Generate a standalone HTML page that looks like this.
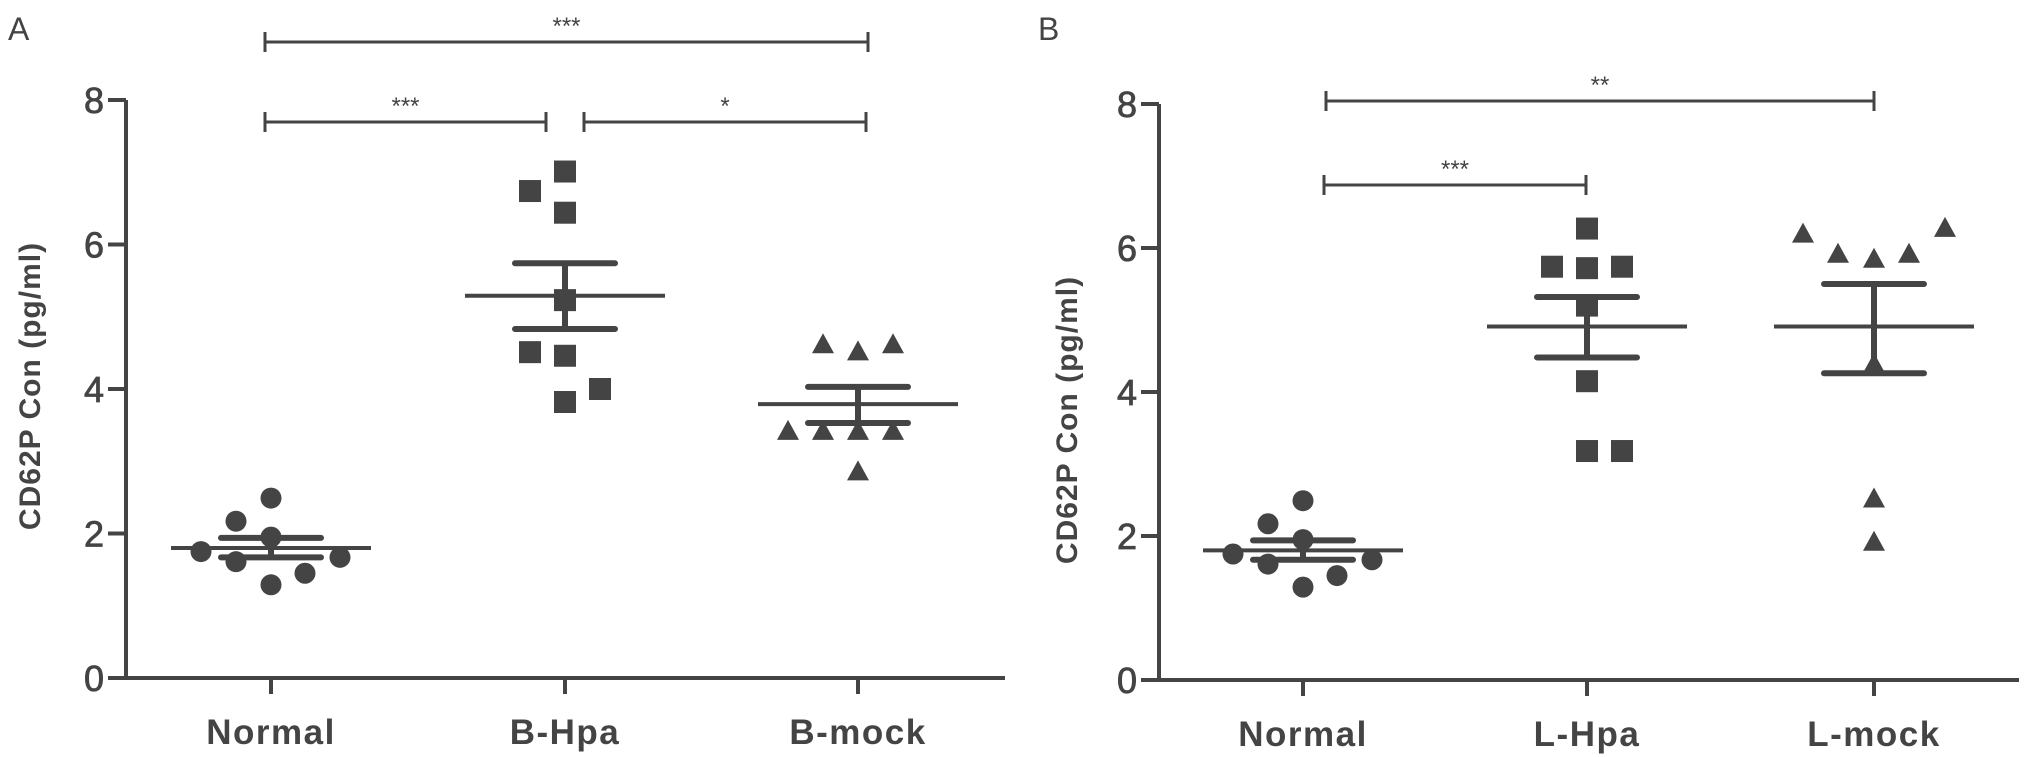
<!DOCTYPE html>
<html><head><meta charset="utf-8">
<style>
html,body{margin:0;padding:0;background:#fff;}
svg{display:block;}
text{font-family:"Liberation Sans",sans-serif;fill:#444;}
</style></head>
<body>
<svg id="chart" width="2031" height="757" viewBox="0 0 2031 757" xmlns="http://www.w3.org/2000/svg"></svg>
<script>
// ---- data ----
const ticksY = [0, 2, 4, 6, 8];
const catsA = ["Normal", "B-Hpa", "B-mock"];
const catsB = ["Normal", "L-Hpa", "L-mock"];
const normalVals = [1.75, 2.17, 2.49, 1.95, 1.61, 1.45, 1.67, 1.29];
const normalOffs = [-70, -35, 0, 0, -35, 34, 69, 0];
const bHpaVals = [6.74, 7.01, 6.44, 5.23, 4.51, 4.46, 4.00, 3.82];
const bHpaOffs = [-35, 0, 0, 0, -35, 0, 35, 0];
const bMockVals = [4.62, 4.52, 4.62, 3.42, 3.42, 3.42, 3.42, 2.86];
const bMockOffs = [-35, 0, 35, -70, -35, 0, 35, 0];
const lHpaVals = [6.27, 5.74, 5.72, 5.74, 5.20, 4.15, 3.18, 3.18];
const lHpaOffs = [0, -35, 0, 35, 0, 0, 0, 35];
const lMockVals = [6.20, 5.92, 5.85, 5.92, 6.28, 4.39, 2.52, 1.92];
const lMockOffs = [-71, -36, 0, 35, 71, 0, 0, 0];
const meansA = [1.80, 5.29, 3.79];
const semHiA = [1.94, 5.74, 4.03];
const semLoA = [1.67, 4.83, 3.53];
const meansB = [1.80, 4.91, 4.91];
const semHiB = [1.94, 5.32, 5.50];
const semLoB = [1.67, 4.48, 4.26];

const NS = "http://www.w3.org/2000/svg";
const svg = document.getElementById('chart');
const C = "#444";
function el(tag, attrs, parent) {
  const e = document.createElementNS(NS, tag);
  for (const k in attrs) e.setAttribute(k, attrs[k]);
  (parent || svg).appendChild(e);
  return e;
}

function panel(p) {
  const g = el('g', {});
  
  
  const y = v => p.y0 + (p.y8 - p.y0) * v / 8;
  const x = i => p.cx[i];
  const L = el('text', {x: p.letterX, y: 40, 'font-size': 32}, g);
  L.textContent = p.id;
  
  
  const ax = el('path', {d: `M${p.ax} ${p.y8} V${p.y0} M${p.ax - 18} ${p.y0} H${p.xEnd}`, stroke: C, 'stroke-width': 4, fill: 'none'}, g);
  
  
  ticksY.forEach(t => {
    el('line', {x1: p.ax - 18, x2: p.ax, y1: y(t), y2: y(t), stroke: C, 'stroke-width': 4}, g);
    const tt = el('text', {x: p.ax - 22, y: y(t) + 13, 'font-size': 36, 'text-anchor': 'end', stroke: C, 'stroke-width': 0.8}, g);
    tt.textContent = t;
    
    
  });
  p.cats.forEach((c, i) => {
    el('line', {x1: x(i), x2: x(i), y1: p.y0, y2: p.y0 + 16, stroke: C, 'stroke-width': 4}, g);
    const t = el('text', {x: x(i), y: p.y0 + 66, 'font-size': 35, 'font-weight': 'bold', 'text-anchor': 'middle', 'letter-spacing': 1.5}, g);
    t.textContent = c;
    
    
  });
  const yt = el('text', {x: 0, y: 0, 'font-size': 30, 'font-weight': 'bold', 'text-anchor': 'middle', 'letter-spacing': 1, transform: `translate(${p.titleX},${p.titleY}) rotate(-90)`}, g);
  yt.textContent = 'CD62P Con (pg/ml)';
  
  
  p.series.forEach((s, i) => {
    s.vals.forEach((v, j) => {
      const px = x(i) + s.offs[j], py = y(v);
      let m;
      if (s.shape === 'circle') m = el('circle', {cx: px, cy: py, r: 10.5, fill: C}, g);
      else if (s.shape === 'square') m = el('rect', {x: px - 11, y: py - 11, width: 22, height: 22, fill: C}, g);
      else m = el('polygon', {points: `${px - 11},${py + 9} ${px + 11},${py + 9} ${px},${py - 11}`, fill: C}, g);
      
      
    });
  });
  p.means.forEach((m, i) => {
    const ml = el('line', {x1: x(i) - 100, x2: x(i) + 100, y1: y(m), y2: y(m), stroke: C, 'stroke-width': 4}, g);
    
    
    const e = el('path', {d: `M${x(i)} ${y(p.hi[i])} V${y(p.lo[i])} M${x(i) - 50} ${y(p.hi[i])} H${x(i) + 50} M${x(i) - 50} ${y(p.lo[i])} H${x(i) + 50}`, stroke: C, 'stroke-width': 6, 'stroke-linecap': 'round', fill: 'none'}, g);
    
    
  });
  p.brackets.forEach(b => {
    const br = el('path', {d: `M${b.x1} ${b.y - 10} V${b.y + 10} M${b.x1} ${b.y} H${b.x2} M${b.x2} ${b.y - 10} V${b.y + 10}`, stroke: C, 'stroke-width': 3, fill: 'none'}, g);
    
    
    const t = el('text', {x: (b.x1 + b.x2) / 2, y: b.y - 8, 'font-size': 24, 'text-anchor': 'middle'}, g);
    t.textContent = b.label;
    
    
  });
}

panel({
  id: 'A', letterX: 8, ax: 126, y0: 678, y8: 100, xEnd: 1005, cx: [271, 565, 858],
  cats: catsA, titleX: 40, titleY: 386,
  series: [{vals: normalVals, offs: normalOffs, shape: 'circle'},
           {vals: bHpaVals, offs: bHpaOffs, shape: 'square'},
           {vals: bMockVals, offs: bMockOffs, shape: 'tri'}],
  means: meansA, hi: semHiA, lo: semLoA,
  brackets: [{x1: 265, x2: 868, y: 42, label: '***'},
             {x1: 265, x2: 546, y: 122, label: '***'},
             {x1: 584, x2: 866, y: 122, label: '*'}]
});
panel({
  id: 'B', letterX: 1038, ax: 1159, y0: 680, y8: 104, xEnd: 2019, cx: [1303, 1587, 1874],
  cats: catsB, titleX: 1077, titleY: 420,
  series: [{vals: normalVals, offs: normalOffs, shape: 'circle'},
           {vals: lHpaVals, offs: lHpaOffs, shape: 'square'},
           {vals: lMockVals, offs: lMockOffs, shape: 'tri'}],
  means: meansB, hi: semHiB, lo: semLoB,
  brackets: [{x1: 1326, x2: 1874, y: 101, label: '**'},
             {x1: 1324, x2: 1586, y: 185, label: '***'}]
});
</script>
</body></html>
